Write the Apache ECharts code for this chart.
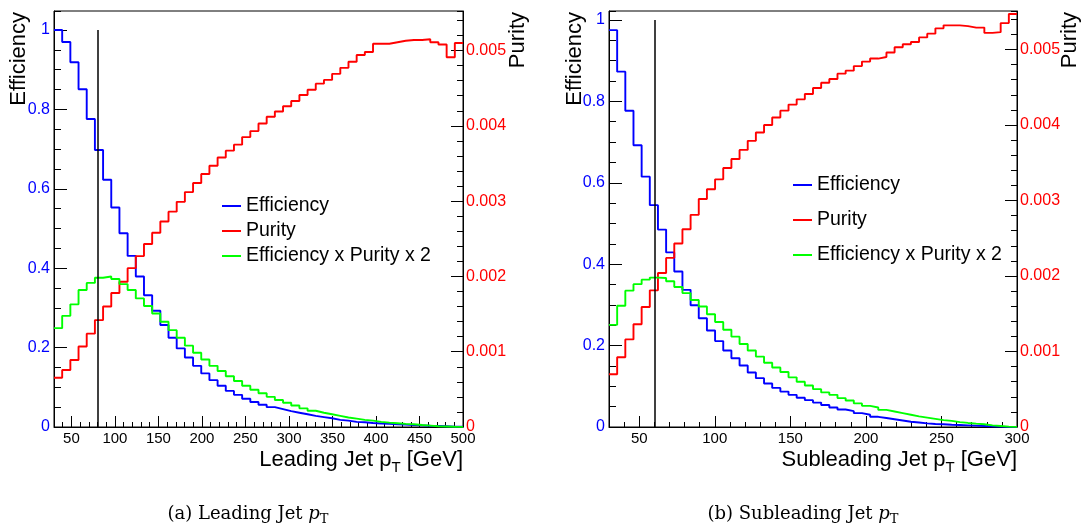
<!DOCTYPE html>
<html>
<head>
<meta charset="utf-8">
<script src="https://cdn.jsdelivr.net/npm/echarts@6/dist/echarts.min.js"></script>
<style>
html, body { margin: 0; padding: 0; background: #fff; }
#chart { width: 1088px; height: 527px; }
</style>
</head>
<body>
<div id="chart"></div>
<script>
// histogram ranges (GeV), 50 bins each
var leadRange = [30, 500];
var subRange = [30, 300];
// vertical cut line position (GeV)
var leadCut = 80;
var subCut = 60;
// axis ranges as drawn
var effMax = [1.048, 1.022];
var purMax = [0.005525, 0.00551];
var seriesNames = ['Efficiency', 'Purity', 'Efficiency x Purity x 2'];

// leading jet
var leadEff = [1.000, 0.970, 0.919, 0.851, 0.776, 0.698, 0.623, 0.553, 0.488, 0.431,
    0.379, 0.332, 0.293, 0.257, 0.225, 0.198, 0.175, 0.154, 0.135, 0.118,
    0.104, 0.091, 0.081, 0.071, 0.063, 0.056, 0.050, 0.045, 0.040, 0.036,
    0.032, 0.028, 0.025, 0.022, 0.018, 0.016, 0.013, 0.012, 0.010, 0.009,
    0.008, 0.007, 0.006, 0.005, 0.004, 0.003, 0.0025, 0.002, 0.001, 0.001];
var leadPur = [0.000655, 0.000757, 0.00089, 0.00107, 0.00124, 0.00142, 0.00160, 0.00178, 0.00193, 0.00211,
    0.00227, 0.00243, 0.00258, 0.00273, 0.00286, 0.00299, 0.00312, 0.00324, 0.00336, 0.00347,
    0.00358, 0.00367, 0.00375, 0.00385, 0.00393, 0.00403, 0.00412, 0.00419, 0.00426, 0.00433,
    0.00441, 0.00448, 0.00456, 0.00461, 0.00469, 0.00477, 0.00485, 0.00494, 0.00498, 0.00509,
    0.00509, 0.00511, 0.00513, 0.00514, 0.00514, 0.00515, 0.00511, 0.00508, 0.00491, 0.00510];
var leadEffPur = [0.249, 0.280, 0.309, 0.345, 0.363, 0.376, 0.379, 0.373, 0.360, 0.345,
    0.324, 0.305, 0.286, 0.265, 0.244, 0.225, 0.205, 0.187, 0.170, 0.154,
    0.141, 0.128, 0.116, 0.104, 0.094, 0.085, 0.076, 0.068, 0.061, 0.054,
    0.047, 0.041, 0.036, 0.032, 0.028, 0.024, 0.021, 0.018, 0.016, 0.013,
    0.011, 0.0096, 0.008, 0.007, 0.005, 0.0035, 0.002, 0.0013, 0.0005, 0.0003];

// subleading jet
var subEff = [0.975, 0.873, 0.777, 0.692, 0.615, 0.545, 0.485, 0.429, 0.382, 0.337,
    0.299, 0.267, 0.237, 0.211, 0.188, 0.169, 0.151, 0.134, 0.120, 0.107,
    0.096, 0.087, 0.079, 0.072, 0.066, 0.060, 0.054, 0.048, 0.043, 0.039,
    0.034, 0.030, 0.025, 0.022, 0.019, 0.016, 0.013, 0.011, 0.009, 0.0074,
    0.0066, 0.0057, 0.0049, 0.0041, 0.0033, 0.0025, 0.0016, 0.0008, 0.0004, 0.0002];
var subPur = [0.000698, 0.000923, 0.00116, 0.00136, 0.00159, 0.00181, 0.00204, 0.00224, 0.00243, 0.00262,
    0.00281, 0.00302, 0.00315, 0.00328, 0.00343, 0.00355, 0.00367, 0.00379, 0.00390, 0.00400,
    0.00410, 0.00419, 0.00427, 0.00434, 0.00441, 0.00449, 0.00456, 0.00461, 0.00468, 0.00472,
    0.00478, 0.00484, 0.00488, 0.00490, 0.00496, 0.00503, 0.00507, 0.00510, 0.00516, 0.00521,
    0.00528, 0.00532, 0.00532, 0.00531, 0.00529, 0.00529, 0.00522, 0.00523, 0.00535, 0.00547];
var subEffPur = [0.251, 0.298, 0.335, 0.351, 0.362, 0.367, 0.366, 0.358, 0.344, 0.329,
    0.312, 0.296, 0.277, 0.258, 0.239, 0.222, 0.204, 0.188, 0.173, 0.158,
    0.146, 0.135, 0.122, 0.111, 0.102, 0.093, 0.085, 0.079, 0.071, 0.065,
    0.058, 0.052, 0.048, 0.042, 0.038, 0.034, 0.030, 0.026, 0.023, 0.020,
    0.017, 0.015, 0.012, 0.010, 0.0082, 0.0066, 0.0041, 0.0025, 0.0008, 0.0004];

var SANS = '"Liberation Sans", Arial, sans-serif';
var SERIF = '"DejaVu Serif", "Liberation Serif", serif';

// histogram -> step points at bin low edges (+ closing point at the upper edge)
function binPoints(range, values) {
    var w = (range[1] - range[0]) / values.length;
    var pts = values.map(function (v, i) {
        return [range[0] + i * w, v];
    });
    pts.push([range[1], values[values.length - 1]]);
    return pts;
}

function xAxes(g, range) {
    return [{
        gridIndex: g, type: 'value', position: 'bottom',
        min: range[0], max: range[1], splitNumber: g === 0 ? 9 : 5,
        minInterval: 50, maxInterval: 50,
        axisLine: { lineStyle: { color: '#000', width: 1 } },
        axisTick: { inside: true, length: 11, lineStyle: { color: '#000' } },
        axisLabel: { showMinLabel: false, color: '#000', fontSize: 15, fontFamily: SANS, margin: 4 },
        splitLine: { show: false }
    }, { // minor ticks
        gridIndex: g, type: 'value', position: 'bottom',
        min: range[0], max: range[1], interval: 10,
        axisLine: { show: false },
        axisTick: { inside: true, length: 5, lineStyle: { color: '#000' } },
        axisLabel: { show: false },
        splitLine: { show: false }
    }];
}

function $merge(a, b) {
    var o = {};
    for (var k in a) o[k] = a[k];
    for (var k2 in b) o[k2] = b[k2];
    return o;
}

function yAxes(g) {
    var common = { gridIndex: g, type: 'value', min: 0, splitLine: { show: false } };
    return [
        $merge(common, {
            position: 'left', max: effMax[g], interval: 0.2,
            axisLine: { show: true, lineStyle: { color: '#000', width: 1 } },
            axisTick: { inside: true, length: 13, lineStyle: { color: '#000' } },
            axisLabel: { showMaxLabel: false, color: '#0000ff', fontSize: 16, fontFamily: SANS, margin: 4 }
        }),
        $merge(common, {
            position: 'left', max: effMax[g], interval: 0.05,
            axisLine: { show: false },
            axisTick: { inside: true, length: 7, lineStyle: { color: '#000' } },
            axisLabel: { show: false }
        }),
        $merge(common, {
            position: 'right', max: purMax[g], interval: 0.001,
            axisLine: { show: true, lineStyle: { color: '#000', width: 1 } },
            axisTick: { inside: true, length: 12, lineStyle: { color: '#000' } },
            axisLabel: { showMaxLabel: false, color: '#ff0000', fontSize: 16, fontFamily: SANS, margin: 3 }
        }),
        $merge(common, {
            position: 'right', max: purMax[g], interval: 0.0002,
            axisLine: { show: false },
            axisTick: { inside: true, length: 6, lineStyle: { color: '#000' } },
            axisLabel: { show: false }
        })
    ];
}

function histSeries(name, g, yIdx, color, range, values, cut) {
    var s = {
        name: name, type: 'line', step: 'end',
        xAxisIndex: g * 2, yAxisIndex: g * 4 + yIdx,
        data: binPoints(range, values),
        symbol: 'none', color: color,
        lineStyle: { color: color, width: 1.9 },
        emphasis: { disabled: true },
        silent: true
    };
    if (cut !== undefined) {
        s.markLine = {
            silent: true, symbol: 'none', label: { show: false },
            lineStyle: { color: '#000', width: 1.5, type: 'solid' },
            data: [[{ coord: [cut, 0] }, { coord: [cut, 1] }]]
        };
    }
    return s;
}

function vTitle(x, text) {
    return {
        type: 'text', x: x, y: 12, rotation: Math.PI / 2,
        style: { text: text, fill: '#000', font: '22px ' + SANS,
            align: 'right', verticalAlign: 'middle', textAlign: 'right', textVerticalAlign: 'middle' }
    };
}

function xTitle(x, label) {
    return {
        type: 'text', x: x, y: 460,
        style: {
            text: '{a|' + label + ' p}{s|T}{a| [GeV]}',
            align: 'right', verticalAlign: 'middle', textAlign: 'right', textVerticalAlign: 'middle',
            rich: {
                a: { font: '22px ' + SANS, fill: '#000', lineHeight: 24, verticalAlign: 'middle' },
                s: { font: '15px ' + SANS, fill: '#000', lineHeight: 30, verticalAlign: 'bottom' }
            }
        }
    };
}

function caption(x, label) {
    return {
        type: 'text', x: x, y: 514,
        style: {
            text: '{r|' + label + ' }{i|p}{s|T}',
            align: 'center', verticalAlign: 'middle', textAlign: 'center', textVerticalAlign: 'middle',
            rich: {
                r: { font: '18px ' + SERIF, fill: '#000', lineHeight: 20, verticalAlign: 'middle' },
                i: { font: 'italic 18px ' + SERIF, fill: '#000', lineHeight: 20, verticalAlign: 'middle' },
                s: { font: '13px ' + SERIF, fill: '#000', lineHeight: 24, verticalAlign: 'bottom' }
            }
        }
    };
}

function legendAt(left, top, gap) {
    return {
        data: seriesNames, orient: 'vertical', left: left, top: top,
        padding: 0, itemGap: gap, itemWidth: 19, itemHeight: 2, icon: 'rect',
        selectedMode: false,
        textStyle: { color: '#000', fontSize: 19.5, fontFamily: SANS, lineHeight: 20 }
    };
}

var chart = echarts.init(document.getElementById('chart'));
chart.setOption({
    animation: false,
    backgroundColor: '#fff',
    grid: [
        { left: 54, top: 11, width: 409, height: 416, show: true, borderColor: '#000', borderWidth: 1 },
        { left: 609, top: 11, width: 408, height: 416, show: true, borderColor: '#000', borderWidth: 1 }
    ],
    xAxis: xAxes(0, leadRange).concat(xAxes(1, subRange)),
    yAxis: yAxes(0).concat(yAxes(1)),
    legend: [legendAt(222, 196, 5), legendAt(793, 175, 15)],
    series: [
        histSeries(seriesNames[0], 0, 0, '#0000ff', leadRange, leadEff, leadCut),
        histSeries(seriesNames[1], 0, 2, '#ff0000', leadRange, leadPur),
        histSeries(seriesNames[2], 0, 0, '#00ff00', leadRange, leadEffPur),
        histSeries(seriesNames[0], 1, 0, '#0000ff', subRange, subEff, subCut),
        histSeries(seriesNames[1], 1, 2, '#ff0000', subRange, subPur),
        histSeries(seriesNames[2], 1, 0, '#00ff00', subRange, subEffPur)
    ],
    graphic: [
        vTitle(19, 'Efficiency'),
        vTitle(518, 'Purity'),
        vTitle(575, 'Efficiency'),
        vTitle(1070, 'Purity'),
        xTitle(463, 'Leading Jet'),
        xTitle(1017, 'Subleading Jet'),
        caption(248, '(a) Leading Jet'),
        caption(803, '(b) Subleading Jet')
    ]
});
</script>
</body>
</html>
